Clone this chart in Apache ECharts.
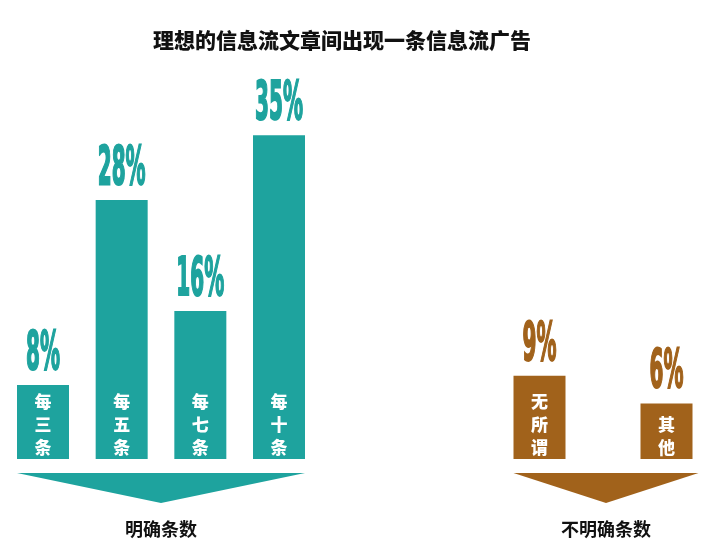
<!DOCTYPE html>
<html lang="zh">
<head>
    <meta charset="UTF-8">
    <title>信息流广告</title>
    <script src="https://cdn.jsdelivr.net/npm/echarts@6/dist/echarts.min.js"></script>
    <style>
        html, body { margin: 0; padding: 0; background: #fff; }
        #main { width: 706px; height: 555px; }
    </style>
</head>
<body>
    <div id="main"></div>
    <script>
        // 明确条数
        var catsA = ['每三条', '每五条', '每七条', '每十条'];
        var valsA = [8, 28, 16, 35];
        // 不明确条数
        var catsB = ['无所谓', '其他'];
        var valsB = [9, 6];
        var groupNames = ['明确条数', '不明确条数'];

        var teal = '#1ea39e';
        var brown = '#a1621b';
        var cjk = '"Noto Sans CJK SC", sans-serif';
        var numFont = 'bold 53px "DejaVu Sans Condensed", sans-serif';
        var barW = 52;

        var chart = echarts.init(document.getElementById('main'));

        function barSeries(vals, color, idx) {
            return {
                type: 'bar',
                xAxisIndex: idx,
                yAxisIndex: idx,
                data: vals,
                barWidth: barW,
                itemStyle: { color: color },
                label: {
                    show: true,
                    position: 'insideBottom',
                    distance: 0,
                    color: '#fff',
                    fontFamily: cjk,
                    fontWeight: 900,
                    fontSize: 17,
                    lineHeight: 23,
                    formatter: function (p) {
                        return p.name.split('').join('\n');
                    }
                },
                silent: true
            };
        }

        // 柱顶的百分比（压窄的粗体数字）
        function valueLabels(vals, color, idx) {
            return {
                type: 'custom',
                xAxisIndex: idx,
                yAxisIndex: idx,
                data: vals.map(function (v, i) { return [i, v]; }),
                renderItem: function (params, api) {
                    var pt = api.coord([api.value(0), api.value(1)]);
                    return {
                        type: 'text',
                        x: pt[0],
                        y: pt[1] - 30,
                        scaleX: 0.42,
                        style: {
                            text: api.value(1) + '%',
                            font: numFont,
                            fill: color,
                            stroke: color,
                            lineWidth: 2,
                            textAlign: 'center',
                            textVerticalAlign: 'middle'
                        }
                    };
                },
                silent: true,
                z: 3
            };
        }

        // 底部箭头 + 分组名
        function arrow(n, color, name, idx, padR) {
            return {
                type: 'custom',
                xAxisIndex: idx,
                yAxisIndex: idx,
                data: [[0, 0]],
                renderItem: function (params, api) {
                    var a = api.coord([0, 0]);
                    var b = api.coord([n - 1, 0]);
                    var x0 = a[0] - barW / 2;
                    var x1 = b[0] + barW / 2 + padR;
                    var y0 = a[1] + 14;
                    return {
                        type: 'group',
                        children: [{
                            type: 'polygon',
                            shape: { points: [[x0, y0], [x1, y0], [(x0 + x1) / 2, y0 + 30]] },
                            style: { fill: color }
                        }, {
                            type: 'text',
                            x: (x0 + x1) / 2,
                            y: a[1] + 70,
                            style: {
                                text: name,
                                fill: '#111',
                                font: 'bold 18px ' + cjk,
                                textAlign: 'center',
                                textVerticalAlign: 'middle'
                            }
                        }]
                    };
                },
                silent: true
            };
        }

        var yAx = { type: 'value', min: 0, max: 40, show: false };
        var xAx = {
            type: 'category',
            boundaryGap: false,
            axisLine: { show: false },
            axisTick: { show: false },
            axisLabel: { show: false },
            splitLine: { show: false }
        };

        chart.setOption({
            animation: false,
            title: {
                text: '理想的信息流文章间出现一条信息流广告',
                left: 148,
                top: 25,
                textStyle: { fontFamily: cjk, fontSize: 21, fontWeight: 900, color: '#111' }
            },
            grid: [
                { left: 43, right: 427, top: 89, bottom: 96 },
                { left: 539.5, right: 39.5, top: 89, bottom: 96 }
            ],
            xAxis: [
                Object.assign({ gridIndex: 0, data: catsA }, xAx),
                Object.assign({ gridIndex: 1, data: catsB }, xAx)
            ],
            yAxis: [
                Object.assign({ gridIndex: 0 }, yAx),
                Object.assign({ gridIndex: 1 }, yAx)
            ],
            series: [
                barSeries(valsA, teal, 0),
                barSeries(valsB, brown, 1),
                valueLabels(valsA, teal, 0),
                valueLabels(valsB, brown, 1),
                arrow(catsA.length, teal, groupNames[0], 0, 0),
                arrow(catsB.length, brown, groupNames[1], 1, 6)
            ]
        });
    </script>
</body>
</html>
